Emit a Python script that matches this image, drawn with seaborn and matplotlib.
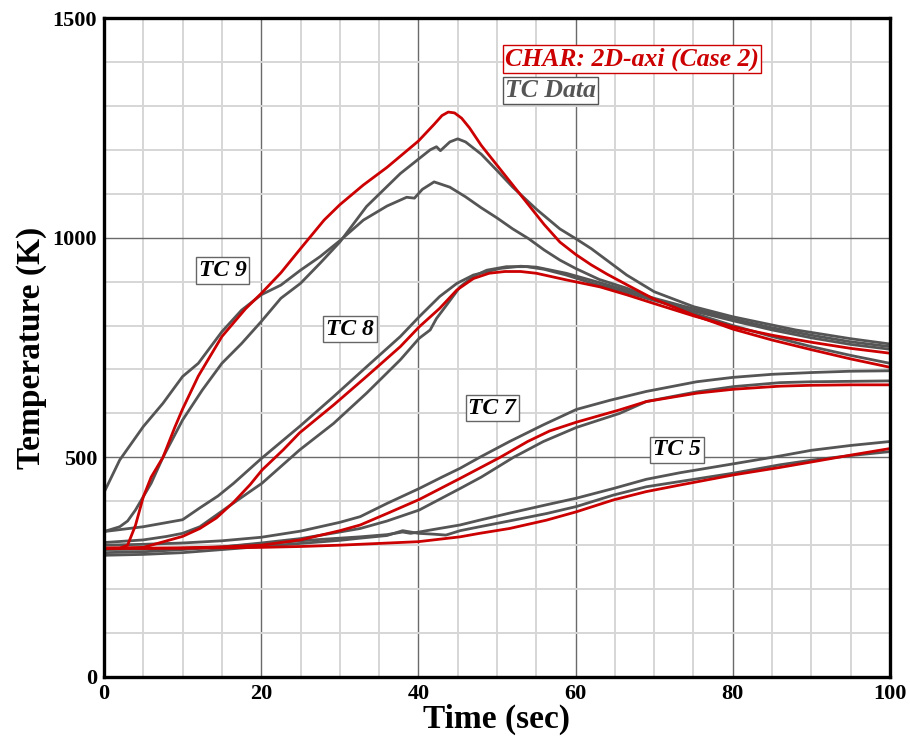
import pandas as pd
import matplotlib
matplotlib.use("Agg")
import matplotlib.pyplot as plt
from matplotlib.ticker import MultipleLocator
import seaborn as sns

# ---- data (time in s, temperature in K) ----
# CHAR model, 2D-axi (Case 2)
tc9_model_t = [0, 2, 3, 4, 5, 6, 7.5, 9, 10, 12, 15, 18, 20, 22.5, 25, 28, 30, 33, 36, 40, 42, 43, 43.8, 44.6, 45.5,
               46.5, 48, 50, 52, 54, 56, 58, 60, 62, 64, 66.5, 70, 75, 80, 85, 90, 95, 100]
tc9_model_T = [293, 293, 300, 345, 410, 455, 500, 568, 610, 685, 775, 838, 873, 920, 975, 1040, 1075, 1120, 1160,
               1220, 1258, 1278, 1286, 1284, 1272, 1250, 1210, 1165, 1120, 1075, 1030, 990, 962, 938, 917, 893, 860,
               824, 792, 767, 745, 724, 705]
tc8_model_t = [0, 5, 6, 8, 10, 12.2, 14.3, 16.5, 18.6, 20.1, 22.8, 24.9, 29.2, 33.4, 37.7, 40.1, 42.7, 44.9, 47,
               49, 51, 53, 55, 58.8, 63.1, 66.5, 70, 75, 80, 85, 90, 95, 100]
tc8_model_T = [293, 295, 300, 310, 320, 338, 362, 398, 438, 471, 517, 556, 619, 684, 752, 797, 839, 881, 907, 919,
               923, 923, 919, 904, 888, 870, 850, 822, 797, 778, 762, 748, 737]
tc7_model_t = [0, 5, 10, 15, 20, 25, 30, 32.6, 36, 40.1, 45.3, 50.4, 53.9, 56.7, 60.1, 65.6, 69, 75.4, 80.1, 86,
               90, 95, 100]
tc7_model_T = [293, 293, 294, 296, 300, 312, 333, 346, 372, 404, 452, 500, 536, 560, 580, 608, 627, 646, 655, 662,
               664, 665, 665]
tc5_model_t = [0, 10, 20, 25, 30, 35, 40, 45.3, 47.8, 51.6, 56.3, 60.1, 64.8, 69, 73.3, 80.1, 86, 90.2, 95, 100]
tc5_model_T = [293, 293, 295, 297, 300, 304, 308, 319, 327, 338, 357, 376, 403, 422, 437, 460, 477, 490, 505, 520]

# TC data (two thermocouples per location)
tc9a_t = [0, 2, 5, 7.5, 10, 12, 15, 17.5, 20, 22.5, 25, 27.5, 30, 33, 36, 38.5, 39.5, 40.5, 42, 44, 46, 48, 50,
          52, 54, 56, 58, 60, 63, 66.5, 70, 75, 80, 85, 90, 95, 100]
tc9a_T = [420, 494, 570, 623, 684, 714, 786, 835, 870, 892, 926, 957, 993, 1040, 1072, 1092, 1090, 1110, 1127,
          1115, 1093, 1068, 1045, 1020, 998, 972, 949, 930, 905, 885, 860, 828, 800, 775, 752, 732, 714]
tc9b_t = [0, 2, 3, 4, 6, 7.5, 10, 12.5, 15, 17.5, 20, 22.5, 25, 27.5, 30, 33.4, 37.7, 41.5, 42.3, 42.8, 44, 45,
          46, 48, 50, 52, 55, 58, 60, 62, 66.5, 70, 75, 80, 88, 95, 100]
tc9b_T = [331, 342, 355, 380, 441, 500, 585, 653, 714, 759, 809, 862, 896, 942, 990, 1071, 1146, 1200, 1207, 1198,
          1218, 1225, 1218, 1190, 1153, 1115, 1065, 1020, 998, 975, 915, 877, 843, 820, 790, 770, 758]
tc8a_t = [0, 5, 10, 12.2, 14.5, 16.5, 20, 25, 29.2, 33.4, 37.7, 40.1, 42.7, 44.9, 47, 50.4, 53, 55, 58.8, 63,
          66.5, 70, 75, 80, 85, 90, 95, 100]
tc8a_T = [331, 342, 358, 385, 412, 441, 497, 572, 638, 706, 775, 820, 866, 896, 915, 930, 935, 933, 919, 898, 880,
          862, 838, 815, 795, 778, 763, 752]
tc8b_t = [0, 5, 8, 10, 12.2, 15.6, 18, 20.1, 24.9, 29.2, 33.4, 37.7, 40.1, 41.5, 42.3, 43.6, 45.3, 47, 48.7, 51.2,
          53.8, 56, 58.8, 62, 65.6, 70, 75, 80, 85, 90, 95, 100]
tc8b_T = [306, 312, 320, 327, 342, 385, 415, 441, 517, 577, 646, 722, 771, 790, 816, 847, 888, 912, 926, 934, 934,
          928, 915, 897, 880, 857, 833, 811, 790, 772, 757, 746]
tc7a_t = [0, 5, 10, 15, 20, 25, 30, 32.6, 36, 40.1, 43, 45.3, 47.8, 51.6, 55.9, 60.1, 64.4, 69, 75.4, 80, 85, 90,
          95, 100]
tc7a_T = [300, 302, 305, 310, 318, 332, 352, 365, 395, 429, 455, 475, 500, 536, 574, 609, 630, 650, 672, 682, 689,
          693, 696, 697]
tc7b_t = [0, 5, 10, 15, 20, 25, 30, 32.6, 36, 40.1, 45.3, 48, 52.1, 55.9, 60.1, 65.6, 69, 75.4, 80.1, 86, 90, 95, 100]
tc7b_T = [290, 291, 293, 296, 305, 315, 330, 338, 355, 380, 429, 455, 500, 536, 568, 600, 627, 649, 661, 670, 672,
          673, 674]
tc5a_t = [0, 5, 10, 15, 20, 25, 30, 32.6, 36, 38, 39, 40.1, 42, 45.3, 47.8, 51.6, 56.3, 60.1, 64.8, 69, 73.3, 80,
          86, 90, 95, 100]
tc5a_T = [283, 285, 290, 296, 303, 310, 316, 319, 324, 330, 327, 330, 336, 346, 357, 373, 392, 407, 429, 450, 465,
          485, 503, 516, 527, 536]
tc5b_t = [0, 5, 10, 15, 20, 25, 30, 32.6, 36, 38, 40, 42, 43.5, 45.3, 47.8, 52.1, 56.3, 60.1, 64.8, 69, 73.3, 80.1,
          86, 90.2, 95, 100]
tc5b_T = [277, 279, 283, 290, 297, 304, 311, 316, 322, 333, 327, 325, 323, 333, 342, 357, 372, 388, 414, 433, 445,
          464, 483, 494, 504, 513]

model_series = [(tc9_model_t, tc9_model_T), (tc8_model_t, tc8_model_T),
                (tc7_model_t, tc7_model_T), (tc5_model_t, tc5_model_T)]
data_series = [(tc9a_t, tc9a_T), (tc9b_t, tc9b_T), (tc8a_t, tc8a_T), (tc8b_t, tc8b_T),
               (tc7a_t, tc7a_T), (tc7b_t, tc7b_T), (tc5a_t, tc5a_T), (tc5b_t, tc5b_T)]

tc_labels = ["TC 9", "TC 8", "TC 7", "TC 5"]
tc_label_pos = [(15.1, 926), (31.3, 792), (49.4, 612), (72.9, 517)]

RED = "#cc0000"
GRAY = "#555555"

sns.set_theme(style="white")
plt.rcParams["font.family"] = ["Liberation Serif", "DejaVu Serif"]
plt.rcParams["text.color"] = "black"
plt.rcParams["axes.labelcolor"] = "black"

fig = plt.figure(figsize=(9.1, 7.36), dpi=100)
ax = fig.add_axes([0.1143, 0.0802, 0.8637, 0.8953])

# TC data first, model on top
for t, T in data_series:
    sns.lineplot(x=t, y=T, ax=ax, color=GRAY, linewidth=2.0, estimator=None, sort=False)
for t, T in model_series:
    sns.lineplot(x=t, y=T, ax=ax, color=RED, linewidth=2.0, estimator=None, sort=False)

ax.set_xlim(0, 100)
ax.set_ylim(0, 1500)
ax.xaxis.set_major_locator(MultipleLocator(20))
ax.xaxis.set_minor_locator(MultipleLocator(5))
ax.yaxis.set_major_locator(MultipleLocator(500))
ax.yaxis.set_minor_locator(MultipleLocator(100))

ax.set_axisbelow(True)
ax.grid(which="minor", color="#d6d6d6", linewidth=1.4)
ax.grid(which="major", color="#6a6a6a", linewidth=1.0)

for sp in ax.spines.values():
    sp.set_visible(True)
    sp.set_color("black")
    sp.set_linewidth(2.4)

ax.tick_params(which="major", direction="in", length=9, width=2.0, colors="black",
               labelcolor="black", labelsize=16, pad=5)
ax.tick_params(which="minor", direction="in", length=5, width=1.2, colors="black")
for lab in ax.get_xticklabels() + ax.get_yticklabels():
    lab.set_fontweight("bold")

ax.set_xlabel("Time (sec)", fontsize=24, fontweight="bold", color="black", labelpad=0)
ax.set_ylabel("Temperature (K)", fontsize=24, fontweight="bold", color="black", labelpad=4)

# legend drawn as boxed text, like the original
ax.text(51.0, 1407, "CHAR: 2D-axi (Case 2)", color=RED, fontsize=18.5, fontweight="bold",
        fontstyle="italic", ha="left", va="center",
        bbox=dict(boxstyle="square,pad=0.08", facecolor="white", edgecolor=RED, linewidth=1.0))
ax.text(51.0, 1336, "TC Data", color=GRAY, fontsize=18.5, fontweight="bold",
        fontstyle="italic", ha="left", va="center",
        bbox=dict(boxstyle="square,pad=0.08", facecolor="white", edgecolor=GRAY, linewidth=1.0))

for lab, (x, y) in zip(tc_labels, tc_label_pos):
    ax.text(x, y, lab, color="black", fontsize=17, fontweight="bold", fontstyle="italic",
            ha="center", va="center",
            bbox=dict(boxstyle="square,pad=0.12", facecolor="white", edgecolor="#666666", linewidth=1.0))

fig.savefig("out.png", dpi=100)
